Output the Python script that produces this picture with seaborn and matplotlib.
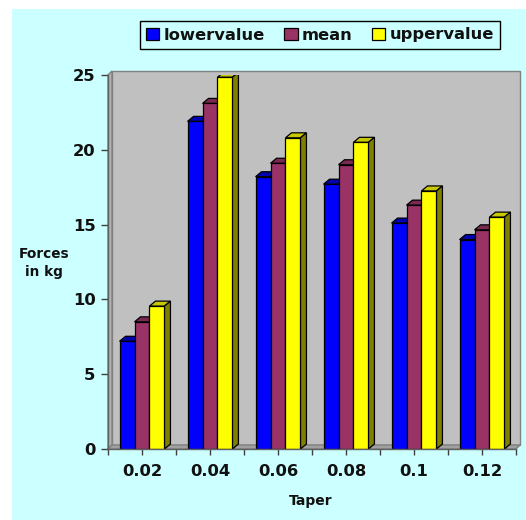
import matplotlib
matplotlib.use("Agg")
import matplotlib.pyplot as plt
from matplotlib.patches import Polygon, Rectangle, Patch
import seaborn as sns
import pandas as pd

# Chart data
tapers = ["0.02", "0.04", "0.06", "0.08", "0.1", "0.12"]
lowervalue = [7.2, 21.9, 18.2, 17.7, 15.1, 14.0]
mean = [8.5, 23.1, 19.1, 19.0, 16.3, 14.65]
uppervalue = [9.55, 24.85, 20.8, 20.5, 17.25, 15.5]
series_names = ["lowervalue", "mean", "uppervalue"]

front_colors = ["#0000FF", "#993366", "#FFFF00"]
top_colors = ["#0000B0", "#7A2950", "#C8C800"]
side_colors = ["#000080", "#4C1933", "#808000"]
bg = "#CCFFFF"

df = pd.DataFrame({
    "Taper": tapers * 3,
    "value": lowervalue + mean + uppervalue,
    "series": sum([[s] * len(tapers) for s in series_names], []),
})

sns.set_theme(style="white")
plt.rcParams["font.family"] = ["DejaVu Sans"]
plt.rcParams["font.weight"] = "bold"

fig = plt.figure(figsize=(5.26, 5.20), dpi=100)
fig.patch.set_facecolor("white")
fig.patches.append(Rectangle((12 / 526, 0), 1, 1 - 9 / 520,
                             transform=fig.transFigure, facecolor=bg,
                             edgecolor="none", zorder=-10))

ax = fig.add_axes([108 / 526, 1 - 449 / 520, 408 / 526, 374 / 520])
ax.set_facecolor("none")

sns.barplot(data=df, x="Taper", y="value", hue="series", order=tapers,
            hue_order=series_names, palette=front_colors, width=0.66,
            edgecolor="black", linewidth=0.9, saturation=1, legend=False,
            ax=ax)

ax.set_xlim(-0.5, 5.5)
ax.set_ylim(0, 25)

# walls of the 3-D box (axes fractions)
wdx, wdy = 4 / 408, 4 / 374
wall_kw = dict(transform=ax.transAxes, clip_on=False, edgecolor="#808080",
               linewidth=1.0)
ax.add_patch(Rectangle((wdx, wdy), 1, 1, facecolor="#C0C0C0", zorder=0.1,
                       **wall_kw))
ax.add_patch(Polygon([(0, 0), (wdx, wdy), (wdx, 1 + wdy), (0, 1)],
                     facecolor="#B2B2B2", zorder=0.2, **wall_kw))
ax.add_patch(Polygon([(0, 0), (1, 0), (1 + wdx, wdy), (wdx, wdy)],
                     facecolor="#A0A0A0", zorder=0.2, **wall_kw))

# depth faces on each bar
ddx, ddy = 6 / 68, 5 / 14.96
for i, cont in enumerate(ax.containers):
    for bar in cont:
        x, w, h = bar.get_x(), bar.get_width(), bar.get_height()
        bar.set_zorder(3)
        ax.add_patch(Polygon([(x, h), (x + ddx, h + ddy), (x + w + ddx, h + ddy),
                              (x + w, h)], facecolor=top_colors[i],
                             edgecolor="black", linewidth=0.9, zorder=2))
        ax.add_patch(Polygon([(x + w, 0), (x + w + ddx, ddy),
                              (x + w + ddx, h + ddy), (x + w, h)],
                             facecolor=side_colors[i], edgecolor="black",
                             linewidth=0.9, zorder=2))

for s in ["top", "right"]:
    ax.spines[s].set_visible(False)
for s in ["left", "bottom"]:
    ax.spines[s].set_color("#606060")
    ax.spines[s].set_linewidth(1.0)
    ax.spines[s].set_zorder(4)

ax.set_yticks([0, 5, 10, 15, 20, 25])
ax.set_xticks(range(len(tapers)))
ax.set_xticklabels(tapers)
ax.set_xticks([k - 0.5 for k in range(len(tapers) + 1)], minor=True)
ax.tick_params(axis="y", which="major", direction="out", length=5, width=1,
               color="#404040", labelsize=11.8, pad=4, left=True,
               labelcolor="#111111")
ax.tick_params(axis="x", which="both", direction="out", length=4, width=1,
               color="#404040", bottom=True)
ax.tick_params(axis="x", which="major", labelsize=11.8, pad=7,
               labelcolor="#111111")
for lab in ax.get_xticklabels() + ax.get_yticklabels():
    lab.set_fontweight("bold")

ax.set_xlabel("")
ax.set_ylabel("")
fig.text(311 / 526, 1 - 501 / 520, "Taper", ha="center", va="center",
         fontsize=10, fontweight="bold", color="#111111")
fig.text(44 / 526, 1 - 263 / 520, "Forces\nin kg", ha="center", va="center",
         fontsize=9.8, fontweight="bold", color="#111111", linespacing=1.35)

handles = [Patch(facecolor=c, edgecolor="black", linewidth=0.9)
           for c in front_colors]
leg = fig.legend(handles, series_names, loc="center", ncol=3,
                 bbox_to_anchor=(320 / 526, 1 - 35 / 520), frameon=True,
                 fancybox=False, facecolor=bg, edgecolor="black",
                 prop={"size": 11.8, "weight": "bold"}, handlelength=0.8,
                 handleheight=0.8, handletextpad=0.25, columnspacing=1.2,
                 borderpad=0.4)
leg.get_frame().set_linewidth(1.0)
leg.get_frame().set_alpha(1)
for t in leg.get_texts():
    t.set_color("#111111")

fig.savefig("out.png", dpi=100, facecolor=fig.get_facecolor())
